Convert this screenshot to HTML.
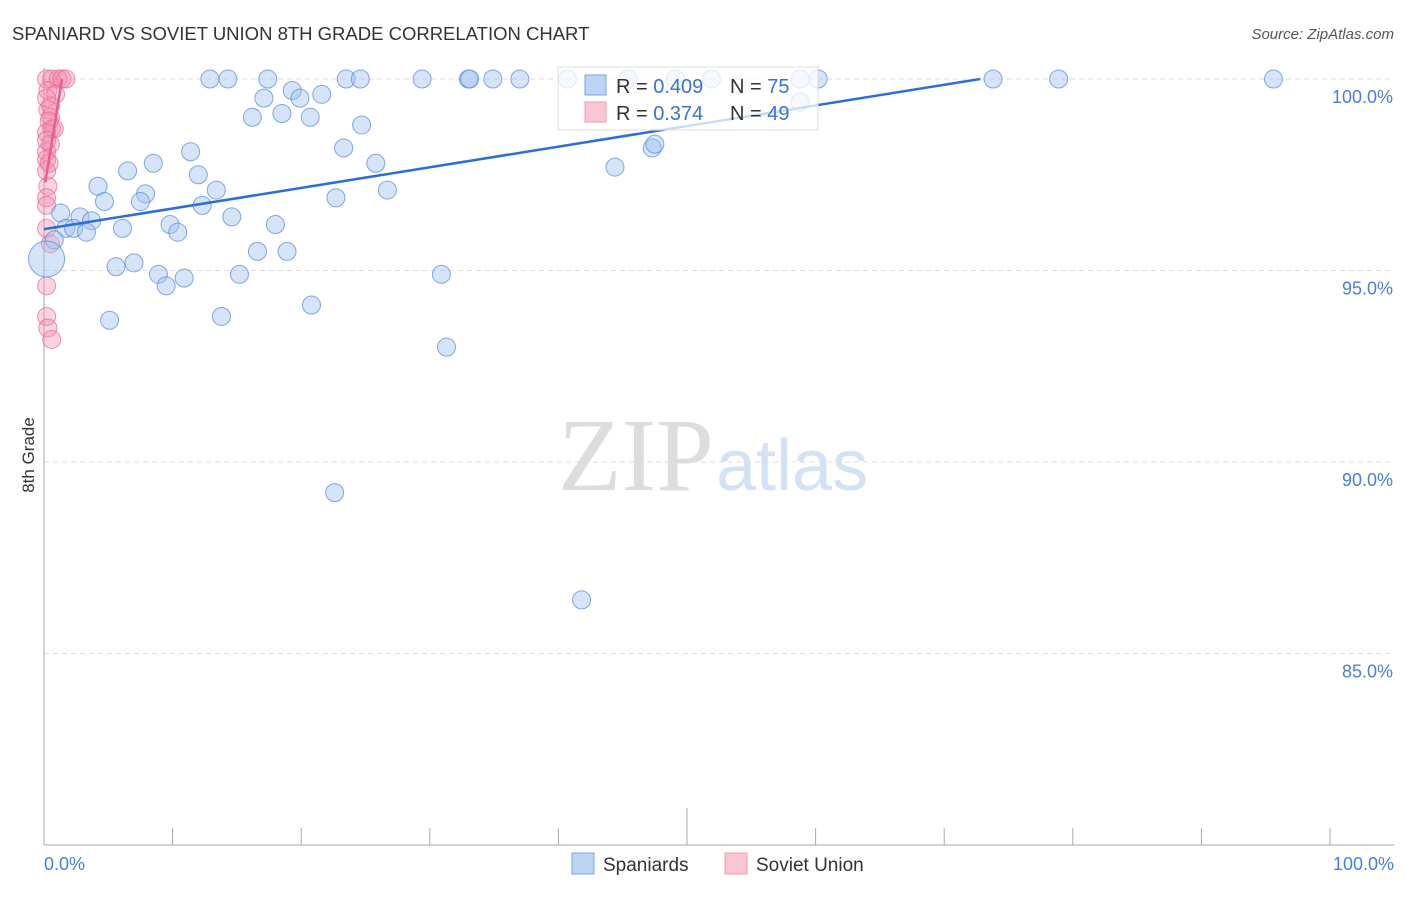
<!DOCTYPE html>
<html><head><meta charset="utf-8"><style>
body{margin:0;background:#fff;font-family:"Liberation Sans",sans-serif;}
svg text{font-family:"Liberation Sans",sans-serif;}
</style></head><body>
<svg width="1406" height="892">
<text x="12" y="40" font-size="18.5" fill="#333">SPANIARD VS SOVIET UNION 8TH GRADE CORRELATION CHART</text>
<text x="1394" y="39" font-size="15" fill="#555" font-style="italic" text-anchor="end">Source: ZipAtlas.com</text>
<text x="714" y="490" font-size="104" fill="#ddd" text-anchor="end" style="font-family:'Liberation Serif',serif">ZIP</text>
<text x="716" y="490" font-size="72" fill="#d4e2f5">atlas</text>
<g id="grid"></g>
<g id="pts"></g>
<g id="lines"></g>
<text x="34" y="455" font-size="17" fill="#333" transform="rotate(-90 34 455)" text-anchor="middle">8th Grade</text>
<text x="44" y="870" font-size="18" fill="#4a7fd6">0.0%</text>
<text x="1394" y="870" font-size="18" fill="#4a7fd6" text-anchor="end">100.0%</text>
<g>
<rect x="558" y="67" width="260" height="63" fill="rgba(255,255,255,0.75)" stroke="#ddd"/>
<rect x="585" y="75" width="21" height="20" fill="#bcd4f6" stroke="#7aa6e6"/>
<rect x="585" y="102" width="21" height="20" fill="#fbc6d4" stroke="#f09ab2"/>
<text x="616" y="93" font-size="20" fill="#333">R = <tspan fill="#3a72d4">0.409</tspan></text>
<text x="730" y="93" font-size="20" fill="#333">N = <tspan fill="#3a72d4">75</tspan></text>
<text x="616" y="120" font-size="20" fill="#333">R =  <tspan fill="#3a72d4">0.374</tspan></text>
<text x="730" y="120" font-size="20" fill="#333">N = <tspan fill="#3a72d4">49</tspan></text>
</g>
<g>
<rect x="572" y="853" width="22" height="21" fill="#bcd4f6" stroke="#7aa6e6"/>
<text x="603" y="871" font-size="19" fill="#333">Spaniards</text>
<rect x="725" y="853" width="22" height="21" fill="#fbc6d4" stroke="#f09ab2"/>
<text x="756" y="871" font-size="19" fill="#333">Soviet Union</text>
</g>
</svg>
<script>
const yTicks=[100,95,90,85];
const yTickLabels=["100.0%","95.0%","90.0%","85.0%"];
const xTicks=[0,10,20,30,40,50,60,70,80,90,100];
const blueX=[12.9,14.3,17.4,23.5,24.6,29.4,33.0,33.1,34.9,37.0,40.7,45.4,49.1,51.9,58.8,60.2,73.8,78.9,95.6,17.1,19.3,19.9,21.6,16.2,18.5,20.7,24.7,23.3,11.4,25.8,6.5,8.5,12.0,4.2,13.4,7.9,4.7,7.5,12.3,14.6,22.7,26.7,1.3,2.8,3.7,1.7,2.3,6.1,9.8,10.4,3.3,18.0,0.8,0.2,5.6,7.0,8.9,10.9,9.5,15.2,16.6,18.9,5.1,13.8,20.8,30.9,31.3,22.6,41.8,44.4,47.3,47.5,58.8];
const blueY=[100,100,100,100,100,100,100,100,100,100,100,100,100,100,100,100,100,100,100,99.5,99.7,99.5,99.6,99.0,99.1,99.0,98.8,98.2,98.1,97.8,97.6,97.8,97.5,97.2,97.1,97.0,96.8,96.8,96.7,96.4,96.9,97.1,96.5,96.4,96.3,96.1,96.1,96.1,96.2,96.0,96.0,96.2,95.8,95.3,95.1,95.2,94.9,94.8,94.6,94.9,95.5,95.5,93.7,93.8,94.1,94.9,93.0,89.2,86.4,97.7,98.2,98.3,99.4];
const pinkX=[0.2,0.6,1.1,1.4,1.7,0.3,0.9,0.3,0.5,0.5,0.4,0.6,0.8,0.2,0.5,0.2,0.2,0.2,0.3,0.2,0.2,0.2,0.5,0.2,0.2,0.3,0.6,0.2,0.2,0.4];
const pinkY=[100,100,100,100,100,99.7,99.6,99.2,99.3,99.0,98.9,98.7,98.7,98.6,98.3,98.1,97.9,97.6,97.2,96.9,96.7,96.1,95.7,94.6,93.8,93.5,93.2,99.5,98.4,97.8];
const blueTrend=[[0,96.08],[72.8,100]];
const pinkTrend=[[0.1,97.3],[1.4,100]];
const X=v=>44+v*12.86, Y=v=>79+(100-v)*38.3;
const NS="http://www.w3.org/2000/svg";
const mk=(t,a,p)=>{const e=document.createElementNS(NS,t);for(const k in a)e.setAttribute(k,a[k]);p.appendChild(e);return e;};
const g=document.getElementById('grid');
yTicks.forEach((t,i)=>{
 const l=mk('line',{x1:44,x2:1394,y1:Y(t),y2:Y(t),stroke:'#ddd','stroke-dasharray':'5,4'},g);
 
 
 const tx=mk('text',{x:1393,y:Y(t)+24,'font-size':18,fill:'#4a7fd6','text-anchor':'end'},g);
 tx.textContent=yTickLabels[i];
 
 
});
const ax=mk('line',{x1:44,x2:44,y1:68,y2:845,stroke:'#aaa'},g);


const bx=mk('line',{x1:44,x2:1394,y1:845,y2:845,stroke:'#aaa'},g);


xTicks.forEach(t=>{
 const l=mk('line',{x1:X(t),x2:X(t),y1:(t==50?808:828),y2:845,stroke:'#aaa'},g);
 
 
});
const p=document.getElementById('pts');
pinkX.forEach((x,i)=>{
 const c=mk('circle',{cx:X(x),cy:Y(pinkY[i]),r:9,fill:'rgba(244,140,175,0.38)',stroke:'rgba(232,100,145,0.7)'},p);
 
 
});
blueX.forEach((x,i)=>{
 const c=mk('circle',{cx:X(x),cy:Y(blueY[i]),r:(i==53?18:9),fill:'rgba(164,196,240,0.45)',stroke:'rgba(90,140,220,0.75)'},p);
 
 
});
const L=document.getElementById('lines');
const bl=mk('line',{x1:X(blueTrend[0][0]),y1:Y(blueTrend[0][1]),x2:X(blueTrend[1][0]),y2:Y(blueTrend[1][1]),stroke:'#2a6fd6','stroke-width':2.5},L);


const pl=mk('line',{x1:X(pinkTrend[0][0]),y1:Y(pinkTrend[0][1]),x2:X(pinkTrend[1][0]),y2:Y(pinkTrend[1][1]),stroke:'#e8608a','stroke-width':2.5},L);


</script>
</body></html>
